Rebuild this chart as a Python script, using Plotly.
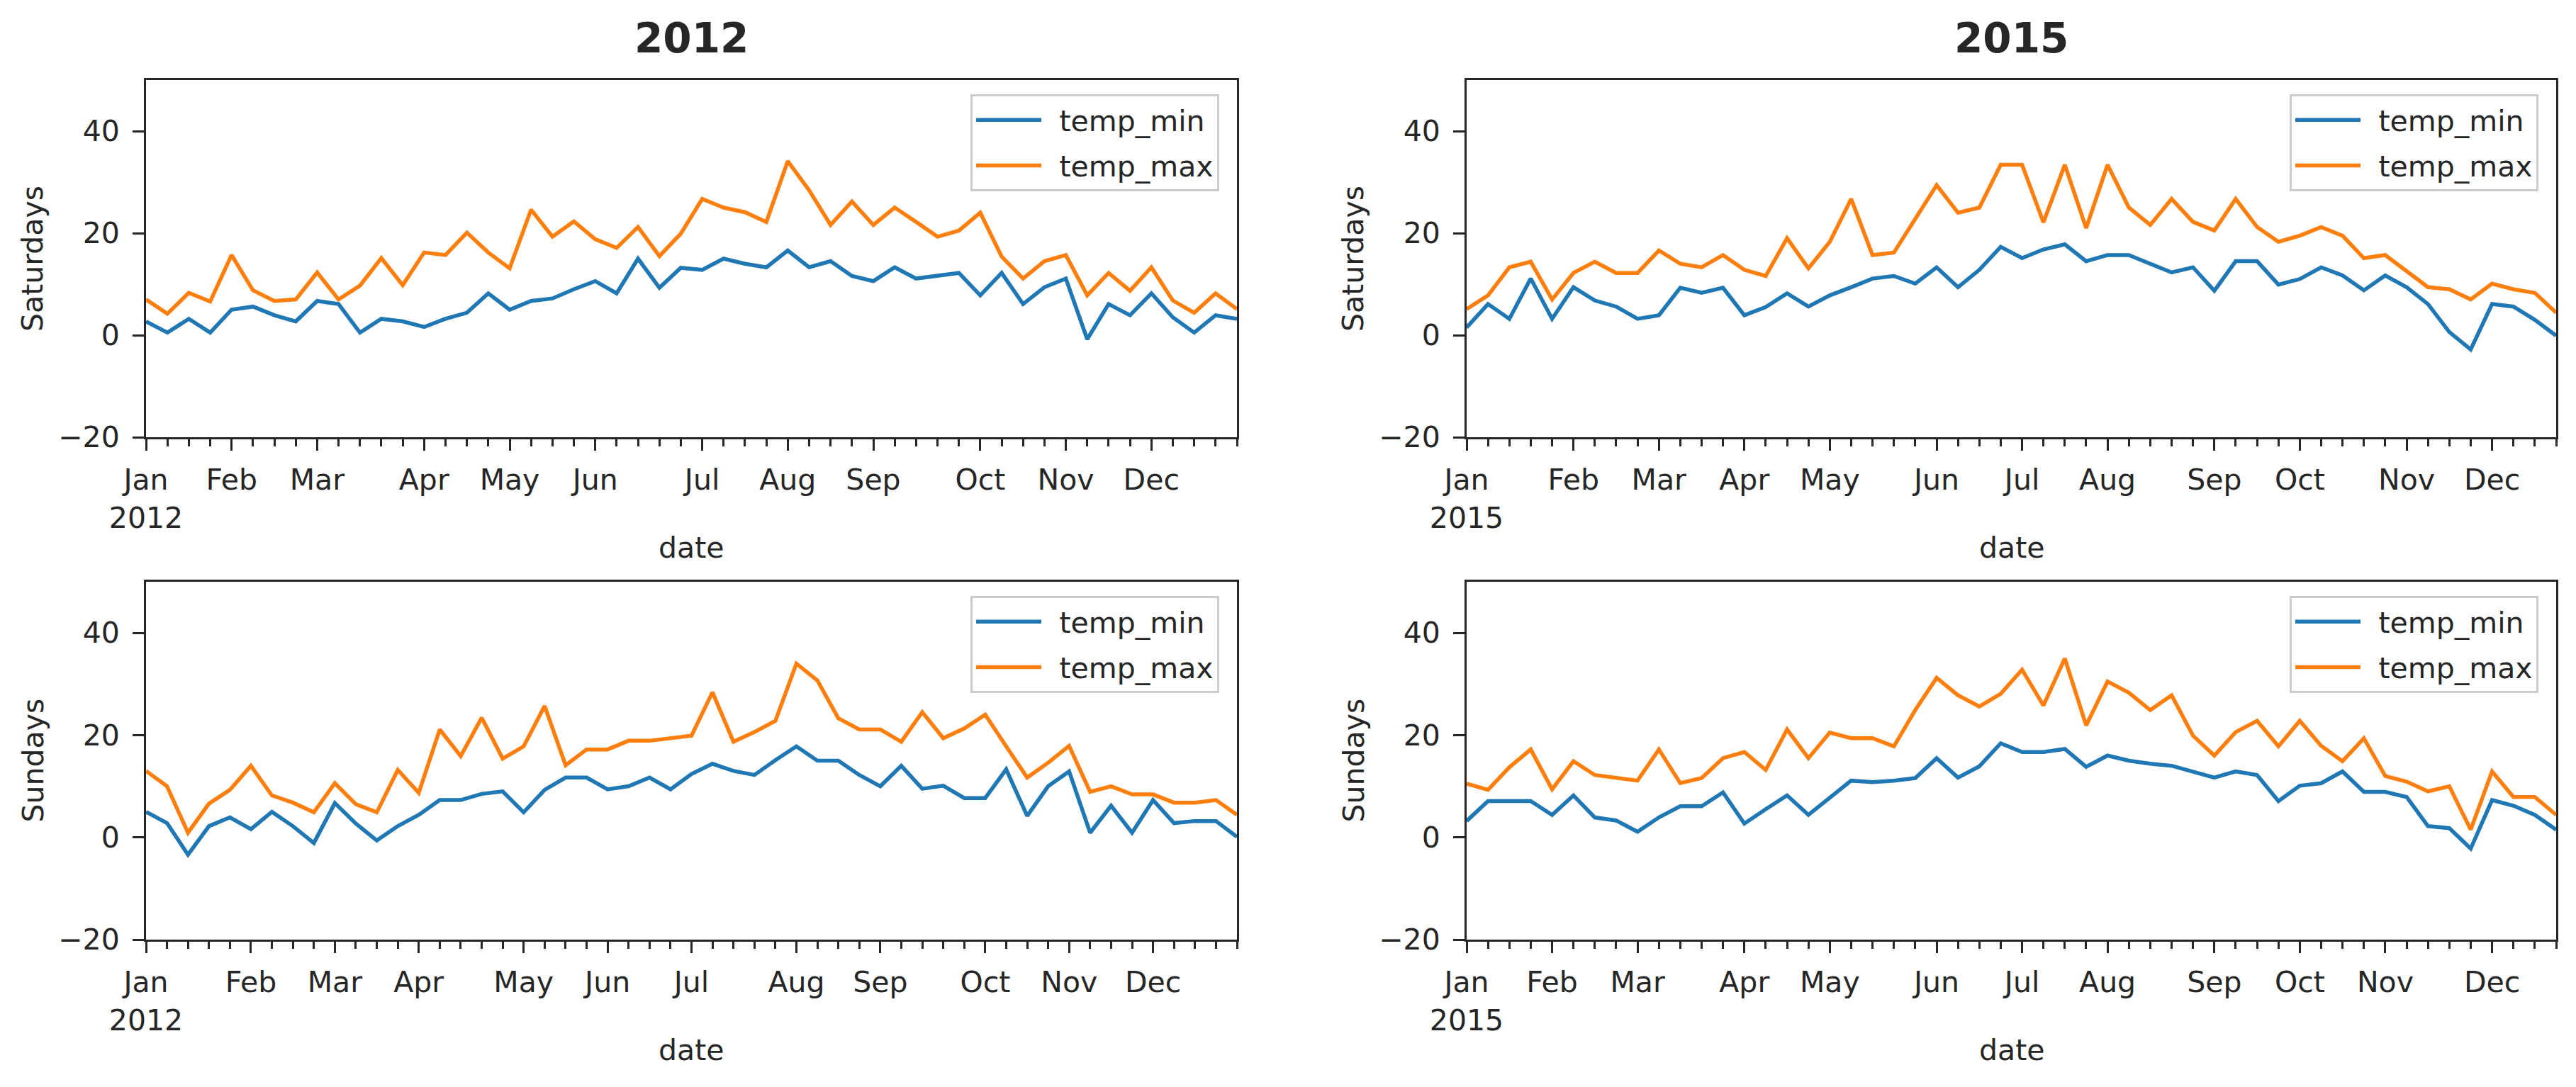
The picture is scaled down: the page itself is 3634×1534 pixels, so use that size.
import pandas as pd
import plotly.graph_objects as go

# ---------------- data ----------------
MONTHS = ["Jan", "Feb", "Mar", "Apr", "May", "Jun", "Jul", "Aug", "Sep", "Oct", "Nov", "Dec"]

sat2012_dates = pd.date_range("2012-01-07", periods=52, freq="7D")
sun2012_dates = pd.date_range("2012-01-01", periods=53, freq="7D")
sat2015_dates = pd.date_range("2015-01-03", periods=52, freq="7D")
sun2015_dates = pd.date_range("2015-01-04", periods=52, freq="7D")

sat2012_min = [2.7, 0.5, 3.2, 0.5, 5.0, 5.6, 3.9, 2.7, 6.7, 6.1,
               0.5, 3.2, 2.7, 1.6, 3.2, 4.4, 8.2, 5.0, 6.7, 7.2,
               9.0, 10.6, 8.2, 15.0, 9.3, 13.2, 12.8, 15.0, 14.0, 13.3,
               16.6, 13.3, 14.5, 11.6, 10.6, 13.3, 11.1, 11.7, 12.2, 7.8,
               12.2, 6.1, 9.4, 11.1, -0.8, 6.1, 3.9, 8.2, 3.5, 0.5,
               3.9, 3.2]
sat2012_max = [7.0, 4.2, 8.3, 6.6, 15.7, 8.8, 6.7, 7.0, 12.3, 7.0,
               9.7, 15.1, 9.8, 16.2, 15.7, 20.1, 16.2, 13.1, 24.6, 19.3,
               22.3, 18.8, 17.1, 21.2, 15.5, 19.9, 26.7, 25.0, 24.1, 22.2,
               34.1, 28.4, 21.6, 26.2, 21.6, 25.0, 22.2, 19.3, 20.5, 24.0,
               15.4, 11.1, 14.5, 15.7, 7.8, 12.2, 8.7, 13.3, 6.8, 4.4,
               8.2, 5.1]

sun2012_min = [5.0, 2.8, -3.4, 2.2, 3.9, 1.6, 5.0, 2.2, -1.1, 6.7,
               2.7, -0.6, 2.2, 4.4, 7.3, 7.3, 8.5, 9.0, 4.9, 9.3,
               11.7, 11.7, 9.4, 10.0, 11.7, 9.4, 12.4, 14.4, 13.0, 12.2,
               15.1, 17.8, 15.0, 15.0, 12.2, 10.0, 14.0, 9.5, 10.1, 7.7,
               7.7, 13.3, 4.2, 10.0, 12.9, 0.9, 6.2, 0.9, 7.3, 2.8,
               3.2, 3.2, 0.1]
sun2012_max = [13.0, 10.0, 0.9, 6.6, 9.3, 14.0, 8.2, 6.8, 4.9, 10.6,
               6.5, 4.9, 13.2, 8.7, 21.1, 15.9, 23.4, 15.4, 17.8, 25.7,
               14.1, 17.2, 17.2, 18.9, 18.9, 19.4, 19.9, 28.4, 18.7, 20.6,
               22.8, 34.0, 30.7, 23.3, 21.1, 21.1, 18.7, 24.5, 19.4, 21.3,
               24.0, 17.8, 11.7, 14.6, 17.9, 8.9, 10.0, 8.4, 8.4, 6.8,
               6.8, 7.3, 4.4]

sat2015_min = [1.5, 6.1, 3.2, 11.1, 3.2, 9.4, 6.8, 5.6, 3.2, 3.9,
               9.3, 8.3, 9.3, 3.9, 5.5, 8.2, 5.6, 7.8, 9.4, 11.1,
               11.6, 10.1, 13.3, 9.4, 12.8, 17.3, 15.1, 16.8, 17.8, 14.5,
               15.7, 15.7, 14.0, 12.3, 13.3, 8.7, 14.5, 14.5, 9.9, 11.0,
               13.3, 11.7, 8.8, 11.7, 9.4, 6.1, 0.6, -2.8, 6.1, 5.6,
               3.0, -0.1]
sat2015_max = [5.1, 7.8, 13.3, 14.4, 7.0, 12.2, 14.4, 12.2, 12.2, 16.6,
               14.0, 13.3, 15.7, 12.8, 11.6, 19.0, 13.1, 18.3, 26.7, 15.7,
               16.2, 22.9, 29.4, 24.0, 25.0, 33.4, 33.4, 22.1, 33.4, 21.0,
               33.4, 25.0, 21.6, 26.7, 22.2, 20.5, 26.7, 21.2, 18.3, 19.5,
               21.2, 19.5, 15.1, 15.7, 12.6, 9.4, 9.0, 7.0, 10.1, 9.0,
               8.3, 4.4]

sun2015_min = [3.2, 7.1, 7.1, 7.1, 4.4, 8.2, 3.9, 3.3, 1.1, 3.9,
               6.1, 6.1, 8.8, 2.7, 5.5, 8.2, 4.4, 7.7, 11.1, 10.8,
               11.1, 11.6, 15.5, 11.7, 13.9, 18.4, 16.7, 16.7, 17.3, 13.8,
               16.0, 15.0, 14.4, 14.0, 12.9, 11.7, 12.9, 12.2, 7.1, 10.1,
               10.6, 12.9, 8.9, 8.9, 7.9, 2.2, 1.8, -2.2, 7.3, 6.2,
               4.4, 1.5]
sun2015_max = [10.5, 9.3, 13.7, 17.2, 9.4, 14.9, 12.2, 11.7, 11.1, 17.2,
               10.6, 11.6, 15.5, 16.7, 13.2, 21.1, 15.5, 20.5, 19.4, 19.4,
               17.8, 24.9, 31.2, 27.8, 25.6, 28.1, 32.8, 25.8, 35.0, 21.9,
               30.5, 28.3, 24.9, 27.8, 19.9, 16.0, 20.6, 22.8, 17.8, 22.8,
               17.9, 14.9, 19.4, 12.0, 10.9, 9.0, 10.0, 1.5, 12.9, 7.9,
               7.9, 4.4]

Y_TICKS = [-20, 0, 20, 40]
Y_RANGE = [-20, 50]
SERIES_NAMES = ["temp_min", "temp_max"]

# ---------------- figure ----------------
W, H = 3634, 1534
BLUE, ORANGE = "#1f77b4", "#ff7f0e"
INK = "#262626"
FONT = "DejaVu Sans"
FS = 41

# pixel boxes of the four axes: (left, right, top, bottom)
boxes = {
    1: (206, 1745, 113, 617),
    2: (2069, 3606, 113, 617),
    3: (206, 1745, 821, 1326),
    4: (2069, 3606, 821, 1326),
}

panels = [
    (1, sat2012_dates, sat2012_min, sat2012_max, "Saturdays"),
    (2, sat2015_dates, sat2015_min, sat2015_max, "Saturdays"),
    (3, sun2012_dates, sun2012_min, sun2012_max, "Sundays"),
    (4, sun2015_dates, sun2015_min, sun2015_max, "Sundays"),
]

fig = go.Figure()
layout = dict(
    width=W, height=H, autosize=False,
    margin=dict(l=0, r=0, t=0, b=0, pad=0, autoexpand=False),
    paper_bgcolor="white", plot_bgcolor="white",
    font=dict(family=FONT, size=FS, color=INK),
    annotations=[],
)


def month_ticks(dates):
    vals, text = [], []
    prev = None
    for i, d in enumerate(dates):
        if d.month != prev:
            lab = MONTHS[d.month - 1]
            if i == 0:
                lab += "<br>" + str(d.year)
            vals.append(d.strftime("%Y-%m-%d"))
            text.append(lab)
            prev = d.month
    return vals, text


for idx, dates, tmin, tmax, ylab in panels:
    l, r, t, b = boxes[idx]
    sfx = "" if idx == 1 else str(idx)
    xs = [d.strftime("%Y-%m-%d") for d in dates]
    leg = "legend" if idx == 1 else f"legend{idx}"
    for name, vals, col in ((SERIES_NAMES[0], tmin, BLUE), (SERIES_NAMES[1], tmax, ORANGE)):
        fig.add_trace(go.Scatter(
            x=xs, y=vals, mode="lines", name="\u2002" + name,
            line=dict(color=col, width=5.5),
            xaxis="x" + sfx, yaxis="y" + sfx,
            legend=leg, legendgroup=f"{name}{idx}",
        ))
    tv, tt = month_ticks(dates)
    layout["xaxis" + sfx] = dict(
        type="date", domain=[l / W, r / W], anchor="y" + sfx,
        range=[xs[0], xs[-1]], automargin=False,
        tickmode="array", tickvals=tv, ticktext=tt,
        ticks="outside", ticklen=16, tickwidth=3, tickcolor=INK,
        minor=dict(tickmode="array", tickvals=xs, ticks="outside",
                   ticklen=10, tickwidth=3, tickcolor=INK, showgrid=False),
        showline=True, mirror=True, linecolor=INK, linewidth=3,
        showgrid=False, zeroline=False,
        tickfont=dict(family=FONT, size=FS, color=INK),
        ticklabelstandoff=6,
    )
    layout["yaxis" + sfx] = dict(
        domain=[1 - b / H, 1 - t / H], anchor="x" + sfx,
        range=Y_RANGE, automargin=False,
        tickmode="array", tickvals=Y_TICKS,
        ticktext=[str(v).replace("-", "\u2212") for v in Y_TICKS],
        ticks="outside", ticklen=16, tickwidth=3, tickcolor=INK,
        showline=True, mirror=True, linecolor=INK, linewidth=3,
        showgrid=False, zeroline=False,
        tickfont=dict(family=FONT, size=FS, color=INK),
        ticklabelstandoff=10,
    )
    layout[leg] = dict(
        x=(r - 25) / W, y=1 - (t + 20) / H, xanchor="right", yanchor="top",
        xref="paper", yref="paper",
        bgcolor="rgba(255,255,255,0.8)", bordercolor="#cccccc", borderwidth=3,
        font=dict(family=FONT, size=FS, color=INK),
        itemwidth=92, traceorder="grouped", tracegroupgap=8,
    )
    # axis titles
    layout["annotations"].append(dict(
        text="date", x=(l + r) / 2 / W, y=1 - (b + 156) / H,
        xref="paper", yref="paper", showarrow=False,
        xanchor="center", yanchor="middle",
        font=dict(family=FONT, size=FS, color=INK),
    ))
    layout["annotations"].append(dict(
        text=ylab, x=(l - 160) / W, y=1 - (t + b) / 2 / H,
        xref="paper", yref="paper", showarrow=False, textangle=-90,
        xanchor="center", yanchor="middle",
        font=dict(family=FONT, size=FS, color=INK),
    ))

for txt, l, r in (("2012", 206, 1745), ("2015", 2069, 3606)):
    layout["annotations"].append(dict(
        text=f"<b>{txt}</b>", x=(l + r) / 2 / W, y=1 - 54 / H,
        xref="paper", yref="paper", showarrow=False,
        xanchor="center", yanchor="middle",
        font=dict(family=FONT, size=58, color=INK),
    ))

fig.update_layout(**layout)
fig.write_html("out.html")
